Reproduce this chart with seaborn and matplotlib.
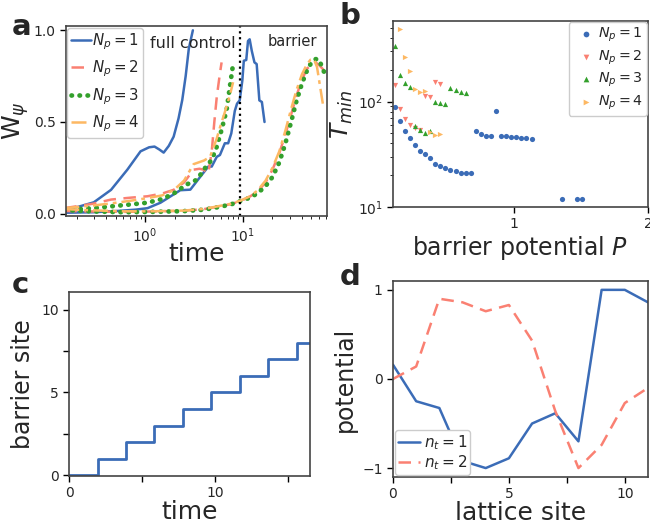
import numpy as np
import matplotlib
matplotlib.use("Agg")
import matplotlib.pyplot as plt
import seaborn as sns
from matplotlib.ticker import FixedLocator

# colours per number of pulses
colors = ['#3b6cb7', '#fa8072', '#33a02c', '#fdb863']
labels_np = [r'$N_p = 1$', r'$N_p = 2$', r'$N_p = 3$', r'$N_p = 4$']

# ---- panel a: W_psi vs time (full control + barrier curves)
t1_full = [0.15, 0.2, 0.3, 0.45, 0.66, 0.9, 1.1, 1.25, 1.4, 1.55, 1.75, 1.96, 2.2, 2.4, 2.6, 2.8, 3.08]
w1_full = [0.025, 0.035, 0.062, 0.13, 0.24, 0.34, 0.362, 0.366, 0.35, 0.333, 0.37, 0.42, 0.52, 0.62, 0.75, 0.9, 1.0]
t1_bar = [0.15, 0.3, 0.53, 0.8, 1.06, 1.44, 1.96, 2.29, 2.9, 3.65, 4.43, 4.8, 5.4, 5.82, 6.53, 7.06, 7.6, 8.25,
          8.7, 9.26, 9.85, 10.2, 10.8, 11.26, 11.7, 12.3, 13.1, 13.8, 14.7, 15.6, 16.6]
w1_bar = [0.005, 0.008, 0.015, 0.022, 0.03, 0.06, 0.105, 0.128, 0.131, 0.2, 0.257, 0.257, 0.31, 0.32, 0.384, 0.384,
          0.438, 0.56, 0.6, 0.618, 0.726, 0.834, 0.838, 0.942, 0.951, 0.888, 0.825, 0.816, 0.618, 0.609, 0.5]

t2_full = [0.15, 0.3, 0.45, 0.7, 1.06, 1.5, 1.96, 2.5, 3.13, 3.6, 3.95, 4.43, 4.8, 5.1, 5.4, 5.8, 6.05]
w2_full = [0.03, 0.055, 0.077, 0.087, 0.095, 0.11, 0.13, 0.17, 0.24, 0.245, 0.24, 0.22, 0.34, 0.5, 0.636, 0.76, 0.825]
t3_full = [0.15, 0.3, 0.45, 0.7, 1.06, 1.5, 1.96, 2.68, 3.38, 4.1, 4.8, 5.4, 6.04, 6.8, 7.34, 7.93]
w3_full = [0.02, 0.03, 0.04, 0.05, 0.06, 0.08, 0.11, 0.16, 0.185, 0.249, 0.294, 0.365, 0.456, 0.564, 0.69, 0.816]
t4_full = [0.15, 0.3, 0.45, 0.7, 1.06, 1.5, 1.96, 2.5, 3.13, 4.0, 4.61, 5.4, 5.82, 6.5, 7.34, 7.93]
w4_full = [0.03, 0.045, 0.056, 0.07, 0.085, 0.1, 0.128, 0.18, 0.27, 0.29, 0.31, 0.41, 0.47, 0.55, 0.645, 0.717]

t_bar = [0.15, 0.3, 0.6, 1.2, 2.5, 4.0, 5.5, 7.5, 9.3, 11.5, 14, 17, 20, 23.5, 27, 31, 35, 40, 45, 50, 55, 60, 65, 72]
w2_bar = [0.015, 0.012, 0.01, 0.012, 0.016, 0.025, 0.038, 0.052, 0.068, 0.09, 0.12, 0.17, 0.24, 0.33, 0.43, 0.54,
          0.64, 0.73, 0.79, 0.815, 0.825, 0.81, 0.79, 0.765]
w3_bar = [0.02, 0.012, 0.008, 0.01, 0.014, 0.022, 0.035, 0.05, 0.068, 0.085, 0.11, 0.15, 0.2, 0.28, 0.38, 0.5,
          0.61, 0.71, 0.78, 0.825, 0.843, 0.84, 0.79, 0.74]
t4_bar = [0.15, 0.3, 0.6, 1.2, 2.5, 4.0, 5.5, 7.5, 9.3, 11.5, 14, 17, 20, 23.5, 27, 31, 35, 40, 45, 49, 53, 57, 61, 65.8]
w4_bar = [0.025, 0.018, 0.013, 0.013, 0.017, 0.026, 0.04, 0.054, 0.07, 0.092, 0.125, 0.18, 0.25, 0.34, 0.45, 0.57,
          0.67, 0.76, 0.815, 0.84, 0.843, 0.8, 0.7, 0.59]

t_switch = 9.3

# ---- panel b: minimal time vs barrier potential
P1 = [0.11, 0.148, 0.186, 0.223, 0.261, 0.299, 0.337, 0.375, 0.412, 0.45, 0.488, 0.526, 0.564, 0.601, 0.639,
      0.677, 0.715, 0.753, 0.79, 0.828, 0.866, 0.904, 0.942, 0.979, 1.017, 1.055, 1.093, 1.131, 1.357, 1.471, 1.509]
T1 = [89, 66, 53, 45, 38.4, 34, 31.7, 29, 25.7, 24.3, 23.4, 22.5, 22, 21, 21,
      21, 52.7, 49.4, 47.6, 47.3, 81.7, 46.6, 46.6, 46, 45.6, 45.3, 45, 44.6, 12, 11.9, 11.9]
P2 = [0.11, 0.148, 0.186, 0.223, 0.261, 0.299, 0.337, 0.375, 0.412, 0.45]
T2 = [142, 84.5, 69, 59.3, 56, 54, 112, 111, 152, 146]
P3 = [0.11, 0.148, 0.186, 0.223, 0.261, 0.299, 0.337, 0.375, 0.412, 0.45, 0.488, 0.526, 0.564, 0.601, 0.639]
T3 = [339, 179, 150, 138, 59, 53.5, 50.6, 52, 98.5, 96, 95, 133, 129, 122, 120]
P4 = [0.148, 0.186, 0.223, 0.261, 0.299, 0.337, 0.375, 0.412, 0.45]
T4 = [488, 265, 195, 130, 122, 126, 51, 48, 48.7]

# ---- panel c: barrier site vs time
t_steps = [0, 1.95, 3.9, 5.85, 7.8, 9.75, 11.7, 13.65, 15.6, 16.5]
site_steps = [0, 1, 2, 3, 4, 5, 6, 7, 8, 8]

# ---- panel d: potential on lattice sites
sites = [0, 1, 2, 3, 4, 5, 6, 7, 8, 9, 10, 11]
pot_n1 = [0.16, -0.25, -0.326, -0.92, -1.0, -0.89, -0.5, -0.385, -0.7, 1.0, 1.0, 0.86]
pot_n2 = [0.0, 0.14, 0.9, 0.86, 0.76, 0.83, 0.43, -0.36, -1.0, -0.74, -0.27, -0.1]

sns.set_style('ticks')
plt.rcParams['font.family'] = ['DejaVu Sans']
plt.rcParams['axes.edgecolor'] = '#444444'
plt.rcParams['mathtext.fontset'] = 'dejavusans'

fig = plt.figure(figsize=(6.5, 5.27), dpi=100)
ax_a = fig.add_axes([0.1015, 0.590, 0.4015, 0.3605])
ax_b = fig.add_axes([0.6046, 0.6072, 0.3923, 0.353])
ax_c = fig.add_axes([0.1062, 0.0968, 0.3708, 0.349])
ax_d = fig.add_axes([0.6046, 0.0949, 0.3923, 0.372])

# panel a
styles = [dict(linestyle='-', linewidth=1.8),
          dict(linestyle=(0, (5, 3)), linewidth=1.8),
          dict(linestyle=(0, (0.1, 1.6)), linewidth=3.4, dash_capstyle='round'),
          dict(linestyle=(0, (6, 2, 1.5, 2)), linewidth=1.8)]
full = [(t1_full, w1_full), (t2_full, w2_full), (t3_full, w3_full), (t4_full, w4_full)]
bar = [(t1_bar, w1_bar), (t_bar, w2_bar), (t_bar, w3_bar), (t4_bar, w4_bar)]
for i in range(4):
    sns.lineplot(x=full[i][0], y=full[i][1], ax=ax_a, color=colors[i], sort=False,
                 estimator=None, label=labels_np[i], **styles[i])
    sns.lineplot(x=bar[i][0], y=bar[i][1], ax=ax_a, color=colors[i], sort=False,
                 estimator=None, **styles[i])
ax_a.axvline(t_switch, color='k', linestyle=':', linewidth=1.6)
ax_a.set_xscale('log')
ax_a.set_xlim(0.156, 72)
ax_a.set_ylim(-0.013, 1.023)
ax_a.set_yticks([0.0, 0.5, 1.0])
ax_a.text(1.12, 0.93, 'full control', fontsize=11.5, ha='left', va='center')
ax_a.text(17.8, 0.94, 'barrier', fontsize=10.5, ha='left', va='center')
ax_a.set_xlabel('time', fontsize=18, labelpad=-2)
ax_a.set_ylabel(r'W$_\psi$', fontsize=18, labelpad=2)
ax_a.legend(loc='upper left', fontsize=10.8, handlelength=1.3, borderpad=0.25,
            labelspacing=0.45, handletextpad=0.1, borderaxespad=0.1, framealpha=1)

# panel b
markers = ['o', 'v', '^', '>']
Ps = [P1, P2, P3, P4]
Ts = [T1, T2, T3, T4]
for i in range(4):
    sns.scatterplot(x=Ps[i], y=Ts[i], ax=ax_b, color=colors[i], marker=markers[i], s=14,
                    linewidth=0, label=labels_np[i])
ax_b.set_yscale('log')
ax_b.set_xlim(0.097, 2.0)
ax_b.set_ylim(10, 580)
ax_b.xaxis.set_major_locator(FixedLocator([1, 2]))
ax_b.set_xlabel(r'barrier potential $P$', fontsize=17, labelpad=2)
ax_b.set_ylabel(r'$T_{min}$', fontsize=18, labelpad=2)
ax_b.legend(loc='upper right', fontsize=10.3, borderpad=0.25, labelspacing=0.3,
            handletextpad=-0.2, borderaxespad=0.1, markerscale=1.1, framealpha=1)

# panel c
sns.lineplot(x=t_steps, y=site_steps, ax=ax_c, color=colors[0], drawstyle='steps-post',
             linewidth=2, estimator=None, sort=False)
ax_c.set_xlim(0, 16.5)
ax_c.set_ylim(-0.05, 11.07)
ax_c.set_xticks([0, 5, 10, 15])
ax_c.set_xticklabels(['0', '', '10', ''])
ax_c.set_yticks([0, 2.5, 5, 7.5, 10])
ax_c.set_yticklabels(['0', '', '5', '', '10'])
ax_c.set_xlabel('time', fontsize=18, labelpad=0)
ax_c.set_ylabel('barrier site', fontsize=17, labelpad=4)

# panel d
sns.lineplot(x=sites, y=pot_n1, ax=ax_d, color=colors[0], linewidth=1.8, label=r'$n_t = 1$')
sns.lineplot(x=sites, y=pot_n2, ax=ax_d, color=colors[1], linewidth=1.8, linestyle=(0, (5, 3)),
             label=r'$n_t = 2$')
ax_d.set_xlim(0, 11)
ax_d.set_ylim(-1.1, 1.1)
ax_d.set_xticks([0, 2.5, 5, 7.5, 10])
ax_d.set_xticklabels(['0', '', '5', '', '10'])
ax_d.set_yticks([-1, 0, 1])
ax_d.set_xlabel('lattice site', fontsize=18, labelpad=0)
ax_d.set_ylabel('potential', fontsize=17, labelpad=4)
ax_d.legend(loc='lower left', fontsize=11, borderpad=0.2, labelspacing=0.1,
            handletextpad=0.2, borderaxespad=0.1, handlelength=1.5, framealpha=1)

for ax in [ax_a, ax_b, ax_c, ax_d]:
    ax.tick_params(labelsize=10, length=4, width=1, color='k')
    ax.tick_params(which='minor', length=2.5, color='k')
    for sp in ax.spines.values():
        sp.set_visible(True)
        sp.set_linewidth(1.2)

fig.text(0.018, 0.948, 'a', fontsize=21, fontweight='bold', va='center')
fig.text(0.522, 0.970, 'b', fontsize=21, fontweight='bold', va='center')
fig.text(0.018, 0.460, 'c', fontsize=21, fontweight='bold', va='center')
fig.text(0.522, 0.475, 'd', fontsize=21, fontweight='bold', va='center')

fig.savefig('out.png', dpi=100)
